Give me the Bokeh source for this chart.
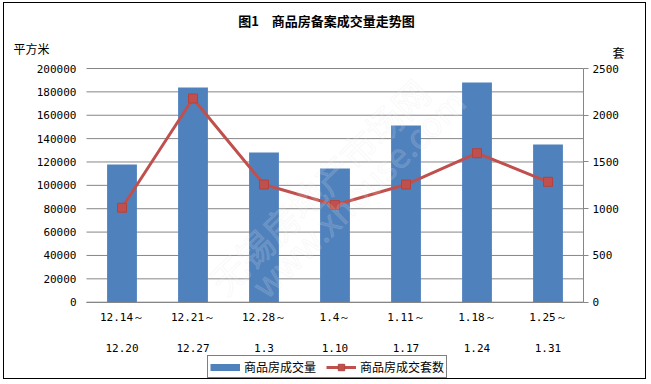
from bokeh.plotting import figure
from bokeh.models import (Range1d, LinearAxis, FixedTicker, Label, Legend, LegendItem,
                          NumeralTickFormatter)
from bokeh.embed import file_html
from bokeh.resources import INLINE

# ---- data ----
week_start = ["12.14～", "12.21～", "12.28～", "1.4～", "1.11～", "1.18～", "1.25～"]
week_end = ["12.20", "12.27", "1.3", "1.10", "1.17", "1.24", "1.31"]
area = [117800, 183700, 128100, 114400, 151200, 188000, 135000]      # 平方米
units = [1010, 2179, 1259, 1040, 1259, 1594, 1288]                   # 套
left_ticks = [0, 20000, 40000, 60000, 80000, 100000, 120000, 140000, 160000, 180000, 200000]
right_ticks = [0, 500, 1000, 1500, 2000, 2500]
title_text = "图1　商品房备案成交量走势图"
left_unit = "平方米"
right_unit = "套"
area_name = "商品房成交量"
units_name = "商品房成交套数"

BLUE = "#4F81BD"
RED = "#C0504D"
GRID = "#868686"
MONO = "DejaVu Sans Mono"
CJK = "Noto Sans CJK SC"

# canvas size; the plot frame covers the whole canvas and the axes are
# drawn at fixed places inside it
W, H = 643, 377
PX_L, PX_R = 82, 579          # pixel x of the category band
PY_TOP, PY_ZERO = 65, 298.7   # pixel y of the axis maximum and of 0

n = len(area)
xs = [i + 0.5 for i in range(n)]
xunit = (PX_R - PX_L) / n
x_start, x_end = -PX_L / xunit, n + (W - PX_R) / xunit
LMAX, RMAX = left_ticks[-1], right_ticks[-1]
lper = LMAX / (PY_ZERO - PY_TOP)
rper = RMAX / (PY_ZERO - PY_TOP)

p = figure(width=W, height=H, output_backend="svg", toolbar_location=None,
           x_range=Range1d(x_start, x_end),
           y_range=Range1d(-(H - PY_ZERO) * lper, LMAX + PY_TOP * lper),
           min_border_left=0, min_border_right=0, min_border_top=0, min_border_bottom=0,
           background_fill_color="white", border_fill_color="white")
p.styles = {"border": "1px solid black", "margin-left": "3px", "margin-top": "2px"}
p.outline_line_color = None
p.extra_y_ranges = {"r": Range1d(-(H - PY_ZERO) * rper, RMAX + PY_TOP * rper)}
p.xgrid.visible = False
p.ygrid.visible = False

# horizontal grid lines across the category band
p.segment(x0=[0] * len(left_ticks), x1=[n] * len(left_ticks), y0=left_ticks, y1=left_ticks,
          line_color=GRID, line_width=1)

# left axis (labels only)
ya = p.yaxis[0]
ya.fixed_location = 0
ya.bounds = (0, LMAX)
ya.ticker = FixedTicker(ticks=left_ticks)
ya.formatter = NumeralTickFormatter(format="0")
ya.axis_line_color = None
ya.major_tick_line_color = None
ya.major_tick_out = 0
ya.major_tick_in = 0
ya.minor_tick_line_color = None
ya.major_label_standoff = 10
ya.major_label_text_font = MONO
ya.major_label_text_font_size = "11px"
ya.major_label_text_color = "black"

# right axis
ra = LinearAxis(y_range_name="r", ticker=FixedTicker(ticks=right_ticks), bounds=(0, RMAX),
                fixed_location=n)
ra.axis_line_color = GRID
ra.major_tick_line_color = GRID
ra.major_tick_out = 5
ra.major_tick_in = 0
ra.minor_tick_line_color = None
ra.major_label_standoff = 4
ra.major_label_text_font = MONO
ra.major_label_text_font_size = "11px"
ra.major_label_text_color = "black"
p.add_layout(ra, "right")

# bottom axes (two lines of labels), drawn at value 0
xa = p.xaxis[0]
xa.fixed_location = 0
xa.bounds = (0, n)
xa.ticker = FixedTicker(ticks=xs)
xa.major_label_overrides = {x: s for x, s in zip(xs, week_start)}
xa.axis_line_color = GRID
xa.major_tick_line_color = None
xa.major_tick_out = 0
xa.major_tick_in = 0
xa.minor_tick_line_color = None
xa.major_label_standoff = 9
xa.major_label_text_font = MONO
xa.major_label_text_font_size = "11px"
xa.major_label_text_color = "black"

xa2 = LinearAxis(ticker=FixedTicker(ticks=xs), fixed_location=0, bounds=(0, n))
xa2.major_label_overrides = {x: s for x, s in zip(xs, week_end)}
xa2.axis_line_color = None
xa2.major_tick_line_color = None
xa2.major_tick_out = 0
xa2.major_tick_in = 0
xa2.minor_tick_line_color = None
xa2.major_label_standoff = 42
xa2.major_label_text_font = MONO
xa2.major_label_text_font_size = "11px"
xa2.major_label_text_color = "black"
p.add_layout(xa2, "below")

# bars and line
bars = p.vbar(x=xs, top=area, width=0.42, fill_color=BLUE, line_color=None)
ln = p.line(x=xs, y=units, line_color=RED, line_width=3, y_range_name="r")
sc = p.scatter(x=xs, y=units, marker="square", size=9, fill_color=RED,
               line_color="#B3433F", y_range_name="r")
# legend swatch for the bars (lies far outside the visible range)
proxy = p.line(x=[0, 1], y=[-1e12, -1e12], line_color=BLUE, line_width=7)

# watermark
for txt, sx, sy, fs in [("无锡房地产市场网", 314, 195, "36px"), ("www.xhouse.com", 353, 188, "34px")]:
    p.add_layout(Label(x=sx, y=sy, x_units="screen", y_units="screen", text=txt,
                       angle=0.77, text_align="center", text_baseline="middle",
                       text_font=CJK, text_font_size=fs, text_color="white", text_alpha=0.15,
                       text_outline_color="#d0d0d0"))

# title and unit texts
p.add_layout(Label(x=322, y=H - 17, x_units="screen", y_units="screen", text=title_text,
                   text_align="center", text_baseline="middle", text_font=CJK,
                   text_font_size="13px", text_font_style="bold", text_color="black"))
p.add_layout(Label(x=9, y=H - 45, x_units="screen", y_units="screen", text=left_unit,
                   text_align="left", text_baseline="middle", text_font=CJK,
                   text_font_size="12px", text_color="black"))
p.add_layout(Label(x=608, y=H - 48.5, x_units="screen", y_units="screen", text=right_unit,
                   text_align="left", text_baseline="middle", text_font=CJK,
                   text_font_size="12px", text_color="black"))

legend = Legend(items=[LegendItem(label=area_name, renderers=[proxy]),
                       LegendItem(label=units_name, renderers=[ln, sc])],
                location=(203, 2), orientation="horizontal",
                border_line_color="black", border_line_width=1,
                background_fill_color="white", background_fill_alpha=1,
                label_text_font=CJK, label_text_font_size="12px", label_text_color="black",
                glyph_width=30, glyph_height=16, label_height=13,
                padding=2, spacing=10, label_standoff=4, margin=0)
p.add_layout(legend, "center")

open("out.html", "w").write(file_html(p, INLINE))
